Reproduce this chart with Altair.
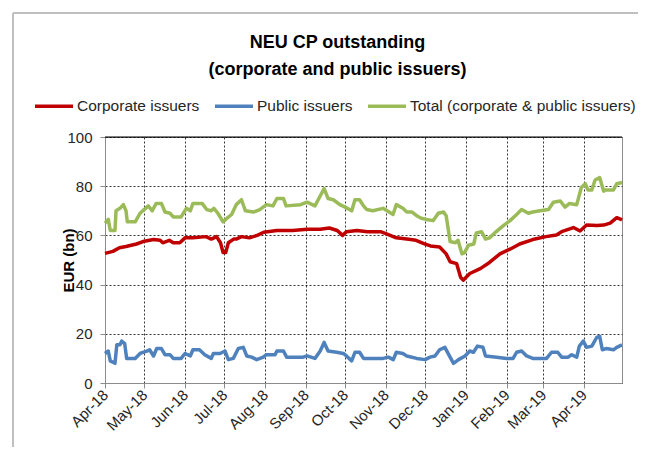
import altair as alt
import pandas as pd

BASE = "2018-04-01"

# Corporate issuers (EUR bn), day offsets from 2018-04-01
corp_days = [0, 6, 11, 16, 24, 29, 37, 42, 44, 49, 52, 57, 61, 67, 77, 81, 85, 88, 90, 92,
             94, 98, 100, 104, 110, 116, 121, 131, 143, 154, 164, 171, 177, 181, 184, 192,
             200, 210, 215, 222, 230, 237, 243, 248, 255, 260, 263, 268, 271, 273, 278,
             286, 293, 301, 309, 316, 326, 336, 344, 348, 357, 362, 367, 375, 380, 385, 390, 394]
corp_vals = [52.7, 53.5, 55, 55.5, 56.5, 57.5, 58.3, 58, 57, 58, 57, 57, 59, 59, 59.5, 58.5, 59.5, 57, 53, 53,
             57, 58.5, 58.5, 59.5, 59, 60, 61.3, 62, 62, 62.5, 62.5, 63, 62, 60, 61.5, 62,
             61.5, 61.5, 60.5, 59, 58.5, 58, 56.7, 55.7, 55.3, 52.5, 49.3, 48.5, 43, 41.8, 44.5,
             46.5, 49, 52.5, 54.5, 56.5, 58.3, 59.5, 60.2, 61.5, 63.2, 61.8, 64.2, 64, 64.2, 65, 67.2, 66.3]

# Public issuers
pub_days = [0, 2.5, 4, 7.6, 9, 11.4, 12.7, 15, 16.5, 23, 26.7, 31.8, 34, 37, 39.4, 43, 45.7, 49.5, 52, 58,
            61, 65, 67, 72, 76, 81, 82.6, 87.7, 91.5, 94, 97.8, 101.6, 105.4, 108, 111.8, 115.6, 120.6,
            123, 129.6, 131, 136, 138.4, 151, 154, 160, 164, 167, 170, 176.6, 181.6, 184, 188, 190.5,
            194, 197, 202, 212, 216, 219.7, 222, 227, 230, 237.5, 244, 247.7, 251.5, 255, 259, 263,
            265.6, 269.4, 274.4, 278, 280.8, 283.8, 288, 290, 298.5, 306, 311, 313.7, 317.5, 321.3,
            326, 336.5, 340.3, 345, 348, 353, 355.6, 359.5, 361.5, 364.5, 367, 371, 374.7, 377, 379,
            382, 387.5, 390, 394]
pub_vals = [12, 13, 9, 8, 15.5, 15.5, 17, 16, 10, 10, 12, 13, 13.5, 11, 14, 14, 11.5, 11.5, 10, 10,
            12, 11, 13.5, 13.5, 11.5, 10, 12, 12, 13, 9.5, 10, 14, 14.5, 11, 10.5, 9.5, 10.5,
            11.5, 11.5, 13, 13, 10.5, 10.5, 11, 10, 13, 16.5, 13, 12.5, 12, 11, 9, 12.5,
            12.5, 10, 10, 10, 10.5, 9.5, 12.5, 12, 11, 10, 9.5, 10.5, 11, 13.5, 14.5, 10.5,
            8, 9.5, 11, 13, 12.5, 15, 14.5, 11, 10.5, 10, 10, 12.5, 13, 11,
            10, 10, 12.5, 12.5, 10.5, 10.5, 11.5, 10.5, 15, 17, 14.5, 15, 18.5, 19, 13.5,
            14, 13.5, 14.5, 15.5]

# Total (corporate & public issuers)
tot_days = [0, 2.5, 4, 7.6, 8.4, 11.4, 14, 16, 17, 23, 26.7, 33, 36, 39, 43, 45.7, 49.5, 52, 58, 62,
            65, 67, 74, 77.5, 81, 83, 86, 90, 93, 96.5, 100, 104, 107, 113, 118, 123, 128, 131, 136,
            138, 149, 154, 160, 164, 167, 170, 174, 179, 183, 188, 190.5, 194, 197, 199.5, 204, 212,
            215, 219.5, 222, 227, 230, 234, 237.5, 241, 245, 250, 254, 258, 260, 263, 267, 269, 272,
            274, 277, 281, 283, 287, 290, 293, 297, 303.6, 308.7, 313.7, 317.5, 322.6, 326, 331.5,
            338, 341.7, 347, 350.6, 354, 359.5, 363, 366, 368, 371, 373.5, 377, 380, 381, 387.5, 390, 394]
tot_vals = [65, 66.5, 62, 62, 70, 71, 72.5, 70, 65.5, 65.5, 69, 72, 70, 73, 73, 69.5, 69, 67.5, 67.5, 71,
            70, 73, 73, 70.5, 70, 71, 69, 65.5, 67, 68.5, 72.5, 74.5, 70, 69.5, 70.5, 72.5, 72, 75, 75,
            72, 72.5, 73.5, 72, 76, 79, 75, 74.5, 72.5, 71.5, 70, 74.5, 74.5, 72, 70.5, 70, 71,
            70, 68.5, 72.5, 71, 69.5, 69.5, 68, 67, 66.5, 66, 69, 69.5, 68, 57.5, 57, 58, 52.5,
            53, 56, 56.5, 61, 61.5, 58.5, 59, 61, 64, 66, 68.5, 70.5, 69, 69.5, 70,
            70.5, 73.5, 74, 71.5, 73, 72.5, 79.5, 81, 78.5, 78.5, 82.5, 83.5, 78, 78.5, 78.5, 81, 81.5]

series_names = ["Corporate issuers", "Public issuers", "Total (corporate & public issuers)"]
series_colors = ["#C00000", "#4F81BD", "#9BBB59"]
y_ticks = [0, 20, 40, 60, 80, 100]


def frame(days, vals, name):
    assert len(days) == len(vals)
    d = pd.Timestamp(BASE) + pd.to_timedelta(days, unit="D")
    return pd.DataFrame({"date": d.strftime("%Y-%m-%dT%H:%M:%S"), "value": vals, "series": name})


df = pd.concat([
    frame(corp_days, corp_vals, series_names[0]),
    frame(pub_days, pub_vals, series_names[1]),
    frame(tot_days, tot_vals, series_names[2]),
])
df["order"] = df["series"].map({n: i for i, n in enumerate(series_names)})

FONT = "Liberation Sans"

lines = alt.Chart(df).mark_line(strokeWidth=3.5, strokeJoin="round").encode(
    x=alt.X("date:T",
            scale=alt.Scale(domain=[alt.DateTime(year=2018, month=4, date=1),
                                    alt.DateTime(year=2019, month=4, date=30)]),
            axis=alt.Axis(title=None, format="%b-%y", labelAngle=-45, labelAlign="right",
                          labelBaseline="middle", labelFontSize=15, labelColor="#262626",
                          labelFont=FONT, labelPadding=4,
                          tickCount={"interval": "month", "step": 1},
                          grid=True, gridColor="#000000", gridDash=[2, 2], gridWidth=0.8,
                          domainColor="#8C8C8C", tickColor="#8C8C8C", tickSize=5,
                          labelOverlap=False, labelFlush=False)),
    y=alt.Y("value:Q", scale=alt.Scale(domain=[0, 100], nice=False),
            axis=alt.Axis(title="EUR (bn)", titleFontSize=15, titleFontWeight="bold",
                          titleFont=FONT, titleColor="#000000", titleX=-29, titleY=123,
                          values=y_ticks, labelFontSize=15, labelFont=FONT, labelColor="#262626",
                          labelPadding=8,
                          grid=True, gridColor="#000000", gridDash=[2, 2], gridWidth=0.8,
                          domainColor="#8C8C8C", tickColor="#8C8C8C", tickSize=5)),
    color=alt.Color("series:N",
                    scale=alt.Scale(domain=series_names, range=series_colors),
                    legend=alt.Legend(title=None, orient="none", direction="horizontal",
                                      legendX=-72, legendY=-52, padding=0,
                                      symbolType="stroke", symbolSize=1444, symbolStrokeWidth=3.5,
                                      labelFontSize=15.5, labelFont=FONT, labelColor="#262626",
                                      labelLimit=0, labelOffset=2, columnPadding=8)),
    order="order:Q",
)

# solid top line at the 100 gridline
top_line = alt.Chart(pd.DataFrame({"value": [100]})).mark_rule(
    stroke="#000000", strokeWidth=1
).encode(y="value:Q")

# chart frame: top and left edges (the rest runs past the picture's edge)
frame_top = alt.Chart(pd.DataFrame({"k": [0]})).mark_rule(
    stroke="#BFBFBF", strokeWidth=2
).encode(x=alt.value(-92), x2=alt.value(560), y=alt.value(-124))
frame_left = alt.Chart(pd.DataFrame({"k": [0]})).mark_rule(
    stroke="#BFBFBF", strokeWidth=2
).encode(x=alt.value(-92), y=alt.value(-124), y2=alt.value(340))

chart = alt.layer(frame_top, frame_left, top_line, lines).properties(
    width=517, height=246,
    autosize=alt.AutoSizeParams(type="none"),
    padding={"left": 97, "top": 129, "right": 16, "bottom": 64},
    title=alt.TitleParams(text=["NEU CP outstanding", "(corporate and public issuers)"],
                          fontSize=18, fontWeight="bold", font=FONT, color="#000000",
                          anchor="middle", frame="group", dx=-26, offset=-67, lineHeight=27),
).configure_view(stroke="#8C8C8C", strokeWidth=1)

chart.save("out.html", embed_options={"renderer": "svg", "actions": False})
